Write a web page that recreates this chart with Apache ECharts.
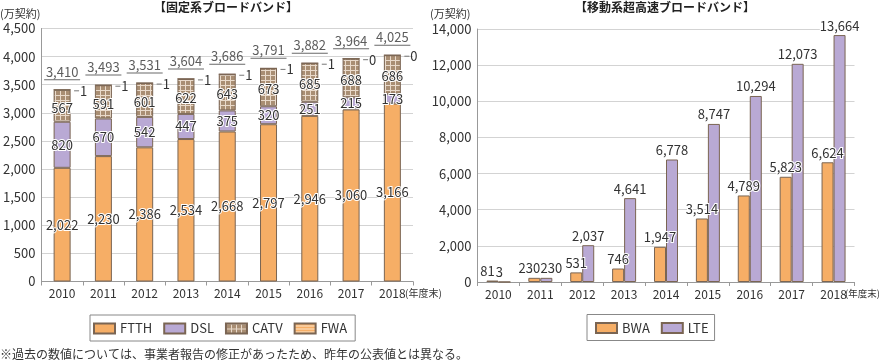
<!DOCTYPE html>
<html><head><meta charset="utf-8">
<script src="https://cdn.jsdelivr.net/npm/echarts@6/dist/echarts.min.js"></script>
<style>html,body{margin:0;padding:0;background:#fff}#c{width:879px;height:362px}</style>
</head><body><div id="c"></div>
<script>
const categories = ['2010','2011','2012','2013','2014','2015','2016','2017','2018'];
const ftth = [2022, 2230, 2386, 2534, 2668, 2797, 2946, 3060, 3166];
const dsl = [820, 670, 542, 447, 375, 320, 251, 215, 173];
const catv = [567, 591, 601, 622, 643, 673, 685, 688, 686];
const fwa = [1, 1, 1, 1, 1, 1, 1, 0, 0];
const fixedTotal = [3410, 3493, 3531, 3604, 3686, 3791, 3882, 3964, 4025];
const bwa = [81, 230, 531, 746, 1947, 3514, 4789, 5823, 6624];
const lte = [3, 230, 2037, 4641, 6778, 8747, 10294, 12073, 13664];
const leftTicks = [0, 4500, 500];
const rightTicks = [0, 14000, 2000];

const FONT = '"Noto Sans CJK JP", "Noto Sans", sans-serif';
const TXT = '#333';
const fmt = v => Number(v).toLocaleString('en-US');

function pattern(w, h, draw) {
  const c = document.createElement('canvas');
  c.width = w; c.height = h;
  const g = c.getContext('2d');
  draw(g);
  return { image: c, repeat: 'repeat' };
}
const catvPat = pattern(5, 5, g => {
  g.fillStyle = '#a98e73'; g.fillRect(0, 0, 5, 5);
  g.fillStyle = '#e9dacb'; g.fillRect(0, 0, 5, 1); g.fillRect(0, 0, 1, 5);
});
const fwaPat = pattern(3, 3, g => {
  g.fillStyle = '#f6ae66'; g.fillRect(0, 0, 3, 3);
  g.fillStyle = '#fde6cc'; g.fillRect(0, 2, 3, 1);
});

const BORDER = '#7a6553';
const inLabel = {
  show: true, position: 'inside', color: TXT, fontSize: 13, fontFamily: FONT,
  textBorderColor: '#fff', textBorderWidth: 2, formatter: p => fmt(p.value)
};
const pairOffsets = { 0: [-5, -5], 1: [-5, 5] };

const chart = echarts.init(document.getElementById('c'), null, { renderer: 'canvas' });

function xAx(idx) {
  return {
    type: 'category', gridIndex: idx, data: categories,
    axisLine: { lineStyle: { color: '#999', width: 1 } },
    axisTick: { show: true, alignWithLabel: false, length: 4, lineStyle: { color: '#999' } },
    axisLabel: { color: TXT, fontSize: 12, fontFamily: FONT, margin: 6 }
  };
}
function yAx(idx, t) {
  return {
    type: 'value', gridIndex: idx, min: t[0], max: t[1], interval: t[2],
    axisLine: { show: true, lineStyle: { color: '#999' } },
    axisTick: { show: false },
    splitLine: { lineStyle: { color: '#d3d3d3', width: 1 } },
    axisLabel: { color: TXT, fontSize: 13, fontFamily: FONT, margin: 6, formatter: v => fmt(v) }
  };
}
function pairData(arr, side) {
  return arr.map((v, i) => pairOffsets[i] ? { value: v, label: { offset: [pairOffsets[i][side], 0] } } : v);
}

const option = {
  animation: false,
  backgroundColor: '#fff',
  grid: [
    { left: 39, top: 28.5, width: 374, height: 253 },
    { left: 477.5, top: 29, width: 377, height: 253 }
  ],
  xAxis: [xAx(0), xAx(1)],
  yAxis: [yAx(0, leftTicks), yAx(1, rightTicks)],
  legend: [
    {
      data: ['FTTH', 'DSL', 'CATV', 'FWA'], left: 90, top: 315,
      padding: [7, 8, 6, 3], itemGap: 11, itemWidth: 21, itemHeight: 10, icon: 'rect',
      borderColor: '#888', borderWidth: 1,
      textStyle: { color: TXT, fontSize: 13, fontFamily: FONT }
    },
    {
      data: ['BWA', 'LTE'], left: 587, top: 314.5,
      padding: [7, 6, 6, 8], itemGap: 11, itemWidth: 21, itemHeight: 10, icon: 'rect',
      borderColor: '#888', borderWidth: 1,
      textStyle: { color: TXT, fontSize: 13, fontFamily: FONT }
    }
  ],
  graphic: [
    { type: 'text', x: 226, y: 7, style: { text: '【固定系ブロードバンド】', fill: '#222', font: 'bold 12px ' + FONT, align: 'center', verticalAlign: 'middle' } },
    { type: 'text', x: 665, y: 7, style: { text: '【移動系超高速ブロードバンド】', fill: '#222', font: 'bold 12px ' + FONT, align: 'center', verticalAlign: 'middle' } },
    { type: 'text', x: 0, y: 14, style: { text: '(万契約)', fill: TXT, font: '11px ' + FONT, align: 'left', verticalAlign: 'middle' } },
    { type: 'text', x: 430, y: 14, style: { text: '(万契約)', fill: TXT, font: '11px ' + FONT, align: 'left', verticalAlign: 'middle' } },
    { type: 'text', x: 405, y: 293, style: { text: '(年度末)', fill: TXT, font: '10px ' + FONT, align: 'left', verticalAlign: 'middle' } },
    { type: 'text', x: 845, y: 293, style: { text: '(年度末)', fill: TXT, font: '9.5px ' + FONT, align: 'left', verticalAlign: 'middle' } },
    { type: 'text', x: 0, y: 354, style: { text: '※過去の数値については、事業者報告の修正があったため、昨年の公表値とは異なる。', fill: TXT, font: '12px ' + FONT, align: 'left', verticalAlign: 'middle' } }
  ],
  series: [
    { name: 'FTTH', type: 'bar', stack: 'fixed', xAxisIndex: 0, yAxisIndex: 0, barWidth: 17, data: ftth,
      itemStyle: { color: '#f6ae66', borderColor: BORDER, borderWidth: 1 }, label: inLabel },
    { name: 'DSL', type: 'bar', stack: 'fixed', xAxisIndex: 0, yAxisIndex: 0, barWidth: 17, data: dsl,
      itemStyle: { color: '#b9a9d4', borderColor: BORDER, borderWidth: 1 }, label: inLabel },
    { name: 'CATV', type: 'bar', stack: 'fixed', xAxisIndex: 0, yAxisIndex: 0, barWidth: 17, data: catv,
      itemStyle: { color: catvPat, borderColor: BORDER, borderWidth: 1 }, label: Object.assign({}, inLabel, { offset: [0, 2] }) },
    { name: 'FWA', type: 'bar', stack: 'fixed', xAxisIndex: 0, yAxisIndex: 0, barWidth: 17, data: fwa,
      itemStyle: { color: fwaPat, borderColor: BORDER, borderWidth: 1 },
      label: {
        show: true, position: 'right', distance: 3, offset: [0, 1],
        formatter: p => '{l|}{v|' + fmt(p.value) + '}',
        rich: {
          l: { width: 5, height: 1, backgroundColor: '#777' },
          v: { color: TXT, fontSize: 13, fontFamily: FONT, padding: [0, 0, 0, 1] }
        }
      } },
    { name: 'total', type: 'scatter', xAxisIndex: 0, yAxisIndex: 0, data: fixedTotal,
      symbol: 'rect', symbolSize: 1, itemStyle: { color: 'rgba(0,0,0,0)' }, silent: true, z: 10,
      label: {
        show: true, position: 'top', distance: 9,
        formatter: p => '{t|' + fmt(p.value) + '}\n{u|}',
        rich: {
          t: { color: TXT, fontSize: 13, fontFamily: FONT, lineHeight: 15, align: 'center' },
          u: { width: 36, height: 1, backgroundColor: '#444', align: 'center' }
        }
      } },
    { name: 'BWA', type: 'bar', xAxisIndex: 1, yAxisIndex: 1, barWidth: 12, barGap: '0%',
      data: pairData(bwa, 0),
      itemStyle: { color: '#f6ae66', borderColor: BORDER, borderWidth: 1 },
      label: { show: true, position: 'top', distance: 3, color: TXT, fontSize: 13, fontFamily: FONT,
        textBorderColor: '#fff', textBorderWidth: 2, formatter: p => fmt(p.value) } },
    { name: 'LTE', type: 'bar', xAxisIndex: 1, yAxisIndex: 1, barWidth: 12, barGap: '0%',
      data: pairData(lte, 1),
      itemStyle: { color: '#b9a9d4', borderColor: BORDER, borderWidth: 1 },
      label: { show: true, position: 'top', distance: 3, color: TXT, fontSize: 13, fontFamily: FONT,
        textBorderColor: '#fff', textBorderWidth: 2, formatter: p => fmt(p.value) } }
  ]
};
chart.setOption(option);
</script></body></html>
